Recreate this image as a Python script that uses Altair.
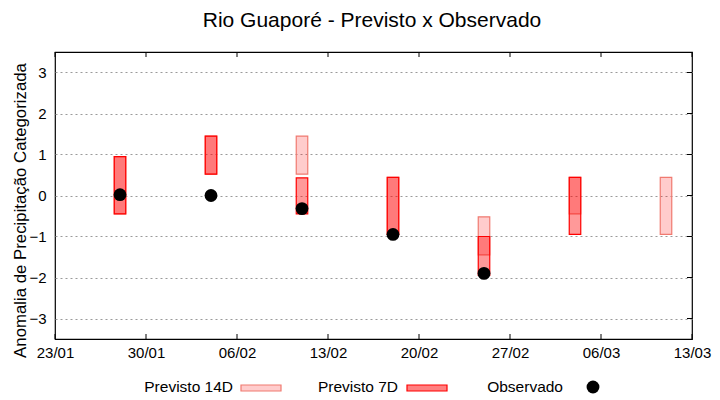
import altair as alt
import pandas as pd

# ---- data ----
dates14 = ["2023-01-28", "2023-02-04", "2023-02-11", "2023-02-18", "2023-02-25", "2023-03-04", "2023-03-11"]
lo14 = [-0.45, 0.52, 0.52, -0.95, -1.45, -0.45, -0.95]
hi14 = [0.95, 1.45, 1.45, 0.44, -0.52, 0.44, 0.44]

dates7 = ["2023-01-28", "2023-02-04", "2023-02-11", "2023-02-18", "2023-02-25", "2023-03-04"]
lo7 = [-0.45, 0.52, -0.45, -0.95, -1.95, -0.95]
hi7 = [0.95, 1.45, 0.43, 0.44, -1.0, 0.44]

dates_obs = ["2023-01-28", "2023-02-04", "2023-02-11", "2023-02-18", "2023-02-25"]
obs = [0.02, 0.0, -0.32, -0.95, -1.9]

x_ticks = ["2023-01-23", "2023-01-30", "2023-02-06", "2023-02-13", "2023-02-20",
           "2023-02-27", "2023-03-06", "2023-03-13"]
y_ticks = [-3, -2, -1, 0, 1, 2, 3]

title_text = "Rio Guaporé - Previsto x Observado"
y_title = "Anomalia de Precipitação Categorizada"
legend_labels = ["Previsto 14D", "Previsto 7D", "Observado"]

W, H = 637, 287
FONT = "Liberation Sans"


def utc_dt(s):
    y, m, d = (int(p) for p in s.split("-"))
    return alt.DateTime(year=y, month=m, date=d, utc=True)


df14 = pd.DataFrame({"date": dates14, "lo": lo14, "hi": hi14})
df7 = pd.DataFrame({"date": dates7, "lo": lo7, "hi": hi7})
dfo = pd.DataFrame({"date": dates_obs, "v": obs})
dfx = pd.DataFrame({"date": x_ticks})
dfy = pd.DataFrame({"v": y_ticks})

xscale = alt.Scale(type="utc", domain=[utc_dt(x_ticks[0]), utc_dt(x_ticks[-1])],
                   padding=0, nice=False)
yscale = alt.Scale(domain=[-3.5, 3.5], nice=False, zero=False, padding=0)

xaxis = alt.Axis(values=[utc_dt(s) for s in x_ticks], format="%d/%m", title=None,
                 grid=False, ticks=False, tickSize=0, domain=False, labelFlush=False,
                 labelFont=FONT, labelFontSize=15, labelColor="#000000", labelPadding=6,
                 labelOverlap=False)
yaxis = alt.Axis(values=y_ticks, title=None, grid=True, gridColor="#9a9a9a",
                 gridDash=[2, 3], gridWidth=1, ticks=False, tickSize=0, domain=False,
                 labelFont=FONT, labelFontSize=15, labelColor="#000000", labelPadding=9)

X = alt.X("date:T", scale=xscale, axis=xaxis)

bars14 = alt.Chart(df14).mark_bar(size=11.5, fill="#ff0000", fillOpacity=0.2,
                                  stroke="#f07a70", strokeWidth=1.2).encode(
    x=X, y=alt.Y("lo:Q", scale=yscale, axis=yaxis), y2="hi:Q")

bars7 = alt.Chart(df7).mark_bar(size=11.5, fill="#ff0000", fillOpacity=0.4,
                                stroke="#ff0000", strokeWidth=1.2).encode(
    x=alt.X("date:T"), y=alt.Y("lo:Q"), y2="hi:Q")

dots = alt.Chart(dfo).mark_point(filled=True, color="#000000", opacity=1, size=165).encode(
    x=alt.X("date:T"), y=alt.Y("v:Q"))

# inward tick marks (bottom, top, right)
tick_bottom = alt.Chart(dfx).mark_rule(color="#000000", strokeWidth=1).encode(
    x=alt.X("date:T"), y=alt.value(H - 5), y2=alt.value(H))
tick_top = alt.Chart(dfx).mark_rule(color="#000000", strokeWidth=1).encode(
    x=alt.X("date:T"), y=alt.value(0), y2=alt.value(5))
tick_right = alt.Chart(dfy).mark_rule(color="#000000", strokeWidth=1).encode(
    y=alt.Y("v:Q"), x=alt.value(W - 5), x2=alt.value(W))

one = pd.DataFrame({"k": [0]})

title = alt.Chart(pd.DataFrame({"t": [title_text]})).mark_text(
    font=FONT, fontSize=21, color="#000000", align="center", baseline="alphabetic").encode(
    text="t:N", x=alt.value(317), y=alt.value(-25))

ytitle = alt.Chart(pd.DataFrame({"t": [y_title]})).mark_text(
    font=FONT, fontSize=16.8, color="#000000", align="center", baseline="middle", angle=270).encode(
    text="t:N", x=alt.value(-34), y=alt.value(158.5))

leg_text = []
for lab, xr in zip(legend_labels, [178, 343, 508]):
    leg_text.append(
        alt.Chart(pd.DataFrame({"t": [lab]})).mark_text(
            font=FONT, fontSize=15.5, color="#000000", align="right", baseline="alphabetic").encode(
            text="t:N", x=alt.value(xr), y=alt.value(340)))

sw14 = alt.Chart(one).mark_rect(fill="#ffcccc", stroke="#f07a70", strokeWidth=1.2).encode(
    x=alt.value(186), x2=alt.value(226), y=alt.value(333), y2=alt.value(339))
sw7 = alt.Chart(one).mark_rect(fill="#ff8080", stroke="#ff0000", strokeWidth=1.2).encode(
    x=alt.value(352), x2=alt.value(392), y=alt.value(333), y2=alt.value(339))
swdot = alt.Chart(one).mark_point(filled=True, color="#000000", opacity=1, size=165).encode(
    x=alt.value(538), y=alt.value(335))

chart = alt.layer(
    bars14, bars7, dots, tick_bottom, tick_top, tick_right,
    title, ytitle, *leg_text, sw14, sw7, swdot
).properties(
    width=W, height=H,
    autosize=alt.AutoSizeParams(type="none"),
    padding={"left": 47, "top": 44, "right": 20, "bottom": 60},
).configure_view(stroke="#000000", strokeWidth=1.2)

chart.save("out.html", embed_options={"renderer": "svg", "actions": False})
